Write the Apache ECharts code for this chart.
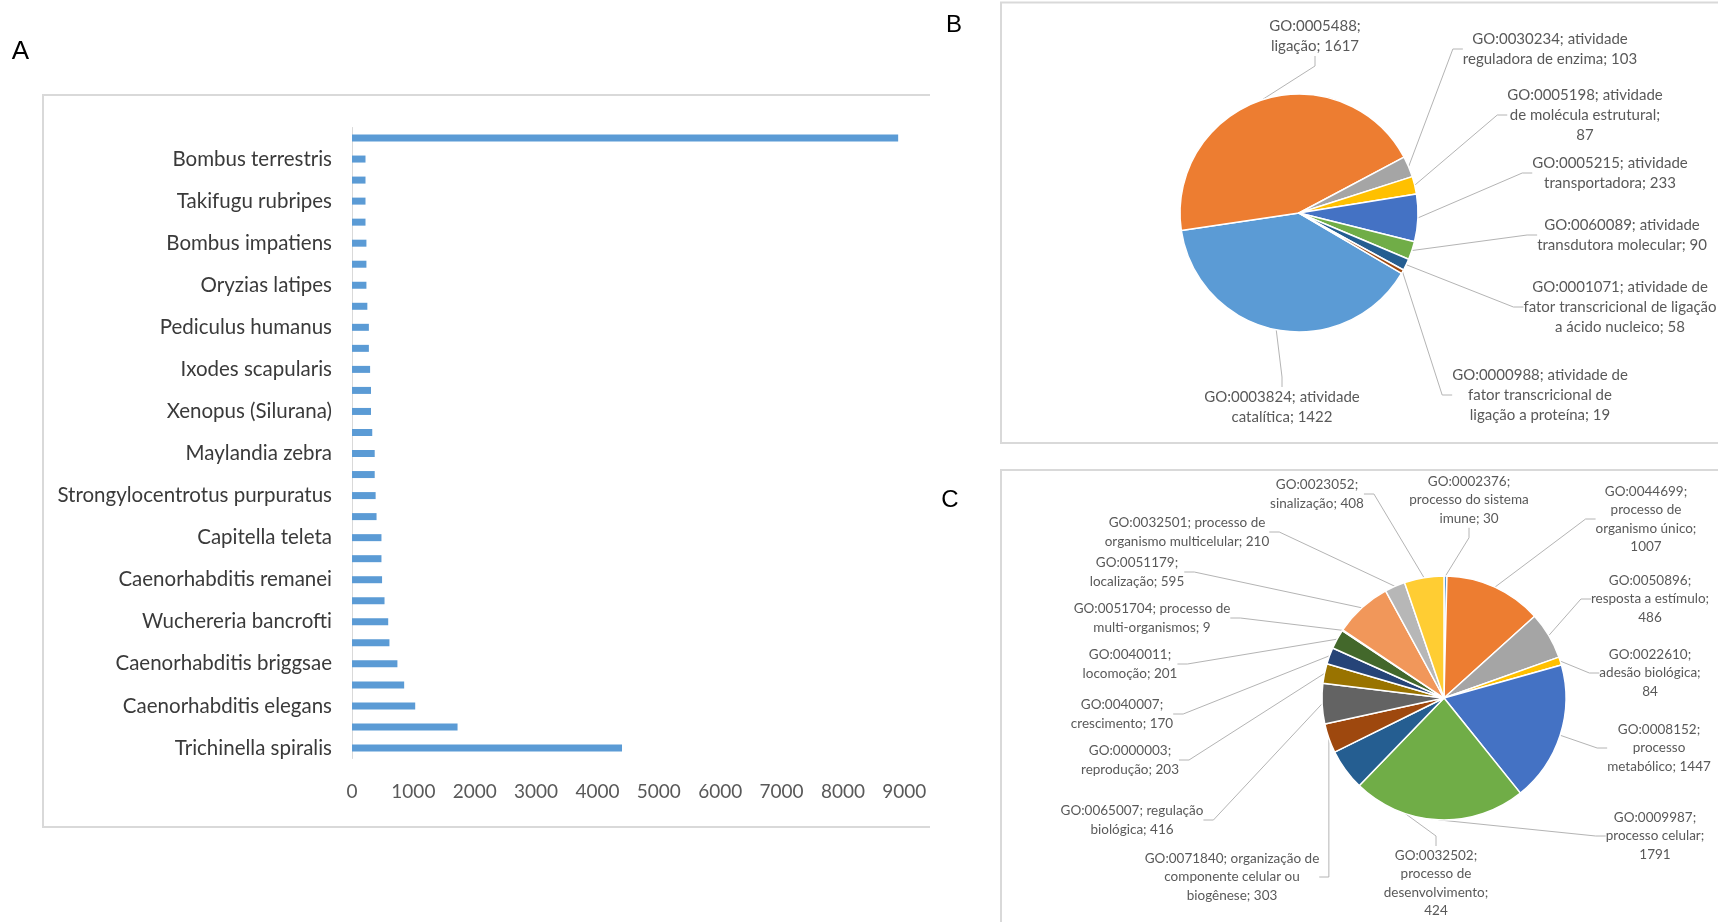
<!DOCTYPE html>
<html>
<head>
<meta charset="utf-8">
<script src="https://cdn.jsdelivr.net/npm/echarts@6/dist/echarts.min.js"></script>
<style>
  html, body { margin: 0; padding: 0; background: #ffffff; }
  #chart { width: 1718px; height: 922px; }
</style>
</head>
<body>
<div id="chart"></div>
<script>
// ---- Panel A: best-hit species (bottom to top); unnamed rows carry no tick label
const speciesNames = [
  'Trichinella spiralis', '', 'Caenorhabditis elegans', '', 'Caenorhabditis briggsae', '',
  'Wuchereria bancrofti', '', 'Caenorhabditis remanei', '', 'Capitella teleta', '',
  'Strongylocentrotus purpuratus', '', 'Maylandia zebra', '', 'Xenopus (Silurana)', '',
  'Ixodes scapularis', '', 'Pediculus humanus', '', 'Oryzias latipes', '',
  'Bombus impatiens', '', 'Takifugu rubripes', '', 'Bombus terrestris', ''
];
const speciesCounts = [
  4400, 1720, 1030, 850, 740, 610, 590, 530, 490, 480,
  480, 400, 385, 370, 370, 330, 310, 310, 295, 275,
  275, 250, 235, 235, 235, 220, 220, 220, 220, 8900
];
const countAxisMax = 9000;
const countAxisStep = 1000;

// ---- Panel B: molecular function
const mfTerms = [
  'GO:0003824; atividade\ncatalítica',
  'GO:0005488;\nligação',
  'GO:0030234; atividade\nreguladora de enzima',
  'GO:0005198; atividade\nde molécula estrutural',
  'GO:0005215; atividade\ntransportadora',
  'GO:0060089; atividade\ntransdutora molecular',
  'GO:0001071; atividade de\nfator transcricional de ligação\na ácido nucleico',
  'GO:0000988; atividade de\nfator transcricional de\nligação a proteína'
];
const mfCounts = [1422, 1617, 103, 87, 233, 90, 58, 19];
const mfValueOnOwnLine = [false, false, false, true, false, false, false, false];

// ---- Panel C: biological process
const bpTerms = [
  'GO:0002376;\nprocesso do sistema\nimune',
  'GO:0044699;\nprocesso de\norganismo único',
  'GO:0050896;\nresposta a estímulo',
  'GO:0022610;\nadesão biológica',
  'GO:0008152;\nprocesso\nmetabólico',
  'GO:0009987;\nprocesso celular',
  'GO:0032502;\nprocesso de\ndesenvolvimento',
  'GO:0071840; organização de\ncomponente celular ou\nbiogênese',
  'GO:0065007; regulação\nbiológica',
  'GO:0000003;\nreprodução',
  'GO:0040007;\ncrescimento',
  'GO:0040011;\nlocomoção',
  'GO:0051704; processo de\nmulti-organismos',
  'GO:0051179;\nlocalização',
  'GO:0032501; processo de\norganismo multicelular',
  'GO:0023052;\nsinalização'
];
const bpCounts = [30, 1007, 486, 84, 1447, 1791, 424, 303, 416, 203, 170, 201, 9, 595, 210, 408];
const bpValueOnOwnLine = [false, true, true, true, false, true, true, false,
                          false, false, false, false, false, false, false, false];

// Office slice palette
const sliceColors = ['#5B9BD5', '#ED7D31', '#A5A5A5', '#FFC000', '#4472C4', '#70AD47',
                     '#255E91', '#9E480E', '#636363', '#997300', '#264478', '#43682B',
                     '#7CAFDD', '#F1975A', '#B7B7B7', '#FFCD33'];

// Where each pie label block is centred (px)
const mfLabelAt = [[1282, 407], [1315, 36], [1550, 49], [1585, 115],
                   [1610, 173], [1622, 235], [1620, 307], [1540, 395]];
const bpLabelAt = [[1469, 500], [1646, 519], [1650, 599], [1650, 673],
                   [1659, 748], [1655, 836], [1436, 883], [1232, 877],
                   [1132, 820], [1130, 760], [1122, 714], [1130, 664],
                   [1152, 618], [1137, 572], [1187, 532], [1317, 494]];

const textFont = 'Lato, "Noto Sans", sans-serif';
const labelGray = '#595959';
const leaderGray = '#b4b4b4';
const frameGray = '#d9d9d9';

function pieSeries(terms, counts, ownLine, labelAt, opts) {
  return {
    type: 'pie',
    center: opts.center,
    radius: opts.radius,
    startAngle: opts.startAngle,
    clockwise: true,
    avoidLabelOverlap: false,
    silent: true,
    animation: false,
    data: terms.map((t, i) => ({
      name: t,
      value: counts[i],
      itemStyle: { color: sliceColors[i] }
    })),
    itemStyle: { borderColor: '#ffffff', borderWidth: 1.5 },
    label: {
      show: true,
      position: 'outside',
      overflow: 'none',
      formatter: p => p.name + ';' + (ownLine[p.dataIndex] ? '\n' : ' ') + p.value,
      color: labelGray,
      fontFamily: textFont,
      fontSize: opts.fontSize,
      lineHeight: opts.lineHeight,
      align: 'center'
    },
    labelLine: {
      show: true,
      length: 8,
      length2: 10,
      lineStyle: { color: leaderGray, width: 1 }
    },
    labelLayout: p => ({
      x: labelAt[p.dataIndex][0],
      y: labelAt[p.dataIndex][1],
      align: 'center',
      verticalAlign: 'middle'
    })
  };
}

const chart = echarts.init(document.getElementById('chart'), null, { renderer: 'canvas' });

chart.setOption({
  backgroundColor: '#ffffff',
  animation: false,
  graphic: [
    // panel frames
    { type: 'polyline', silent: true, shape: { points: [[930, 95], [43, 95], [43, 827], [930, 827]] },
      style: { stroke: frameGray, lineWidth: 2, fill: null } },
    { type: 'polyline', silent: true, shape: { points: [[1720, 2.5], [1001, 2.5], [1001, 443], [1720, 443]] },
      style: { stroke: frameGray, lineWidth: 2, fill: null } },
    { type: 'polyline', silent: true, shape: { points: [[1720, 470], [1001, 470], [1001, 925]] },
      style: { stroke: frameGray, lineWidth: 2, fill: null } },
    // panel letters
    { type: 'text', x: 20.5, y: 51.5, silent: true,
      style: { text: 'A', fontSize: 26, fontFamily: '"Liberation Sans", Arial, sans-serif', fill: '#000', align: 'center', verticalAlign: 'middle' } },
    { type: 'text', x: 954, y: 25.5, silent: true,
      style: { text: 'B', fontSize: 24, fontFamily: '"Liberation Sans", Arial, sans-serif', fill: '#000', align: 'center', verticalAlign: 'middle' } },
    { type: 'text', x: 950, y: 500, silent: true,
      style: { text: 'C', fontSize: 24, fontFamily: '"Liberation Sans", Arial, sans-serif', fill: '#000', align: 'center', verticalAlign: 'middle' } }
  ],
  grid: { left: 352, right: 813.7, top: 127.5, bottom: 163.5, containLabel: false },
  xAxis: {
    type: 'value',
    min: 0,
    max: countAxisMax,
    interval: countAxisStep,
    axisLine: { show: false },
    axisTick: { show: false },
    splitLine: { show: false },
    axisLabel: {
      color: labelGray, fontFamily: textFont, fontSize: 19, margin: 24,
      formatter: v => String(v)
    }
  },
  yAxis: {
    type: 'category',
    data: speciesNames,
    axisLine: { show: true, lineStyle: { color: frameGray, width: 1 } },
    axisTick: { show: false },
    axisLabel: { interval: 0, color: '#3a3a3a', fontFamily: textFont, fontSize: 20.5, margin: 20 }
  },
  series: [
    {
      type: 'bar',
      data: speciesCounts,
      barWidth: 7,
      silent: true,
      itemStyle: { color: '#5B9BD5' }
    },
    pieSeries(mfTerms, mfCounts, mfValueOnOwnLine, mfLabelAt,
      { center: [1299, 213], radius: 119, startAngle: 329.5, fontSize: 15, lineHeight: 20 }),
    pieSeries(bpTerms, bpCounts, bpValueOnOwnLine, bpLabelAt,
      { center: [1444, 698], radius: 122, startAngle: 90, fontSize: 13.5, lineHeight: 18.5 })
  ]
});
</script>
</body>
</html>
